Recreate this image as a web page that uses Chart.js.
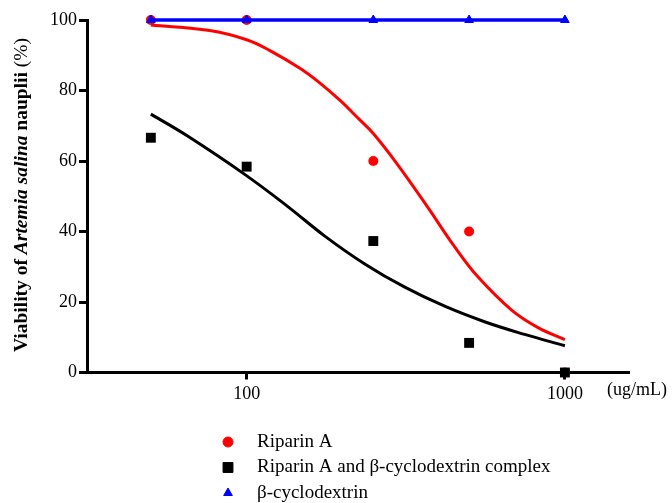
<!DOCTYPE html>
<html>
<head>
<meta charset="utf-8">
<script src="https://cdn.jsdelivr.net/npm/chart.js@4"></script>
<style>
  html, body { margin: 0; padding: 0; background: #fff; }
  #wrap { width: 672px; height: 503px; }
</style>
</head>
<body>
<div id="wrap"><canvas id="chart" width="672" height="503"></canvas></div>
<script>
// measured concentrations (ug/mL)
const doses = [50, 100, 250, 500, 1000];
const riparinPts = [100, 100, 60, 40, 0];
const complexPts = [66.6, 58.4, 37.3, 8.4, 0];
const cyclodextrinPts = [100, 100, 100, 100, 100];

// fitted curves
const riparinFitX = [50, 76.5, 100, 118, 147, 170, 197, 226, 250, 298, 370, 450, 532, 680, 821, 1000];
const riparinFitY = [98.6, 97.0, 94.4, 91.4, 86.3, 82.1, 77.1, 71.8, 67.8, 59.0, 47.0, 35.7, 27.2, 17.7, 12.8, 9.3];
const complexFitX = [50, 65.4, 98.6, 135, 176, 235, 314, 419, 559, 747, 1000];
const complexFitY = [73.3, 67.0, 56.2, 47.0, 38.7, 30.8, 24.2, 18.8, 14.4, 10.8, 7.6];

const xTicks = [100, 1000];
const yTicks = [0, 20, 40, 60, 80, 100];

const legendItems = [
  { label: 'Riparin A', style: 'circle', color: '#ff0000', radius: 5 },
  { label: 'Riparin A and \u03b2-cyclodextrin complex', style: 'rect', color: '#000000', radius: 7 },
  { label: '\u03b2-cyclodextrin', style: 'triangle', color: '#0000ff', radius: 5 },
];

const FONT = '"Liberation Serif", "Times New Roman", serif';
const zip = (xs, ys) => xs.map((x, i) => ({ x: x, y: ys[i] }));

const extras = {
  id: 'extras',
  afterDraw(chart) {
    const ctx = chart.ctx;
    ctx.save();

    // y axis title with italic species name
    const parts = [
      ['bold 19.5px ' + FONT, 'Viability of '],
      ['italic bold 19.5px ' + FONT, 'Artemia salina'],
      ['bold 19.5px ' + FONT, ' nauplii '],
      ['19.5px ' + FONT, '(%)'],
    ];
    let total = 0;
    parts.forEach((p) => { ctx.font = p[0]; total += ctx.measureText(p[1]).width; });
    ctx.translate(22, 195);
    ctx.rotate(-Math.PI / 2);
    ctx.fillStyle = '#000';
    ctx.textBaseline = 'middle';
    let x = -total / 2;
    parts.forEach((p) => {
      ctx.font = p[0];
      ctx.fillText(p[1], x, 0);
      x += ctx.measureText(p[1]).width;
    });
    ctx.restore();

    // unit label at the end of the x axis
    ctx.save();
    ctx.font = '18px ' + FONT;
    ctx.fillStyle = '#000';
    ctx.textBaseline = 'middle';
    ctx.fillText('(ug/mL)', 607, 390);

    // legend
    legendItems.forEach((item, i) => {
      const y = 442 + i * 25.5;
      ctx.fillStyle = item.color;
      ctx.strokeStyle = item.color;
      ctx.lineWidth = 1;
      Chart.helpers.drawPoint(ctx, { pointStyle: item.style, radius: item.radius, borderWidth: 1, rotation: 0 }, 228, y);
      ctx.fillStyle = '#000';
      ctx.font = '19px ' + FONT;
      ctx.fillText(item.label, 257, y);
    });
    ctx.restore();
  },
};

new Chart(document.getElementById('chart'), {
  type: 'line',
  data: {
    datasets: [
      {
        label: 'β-cyclodextrin',
        data: zip(doses, cyclodextrinPts),
        borderColor: '#0000ff',
        backgroundColor: '#0000ff',
        borderWidth: 3.5,
        pointStyle: 'triangle',
        pointRadius: 5,
        pointBorderWidth: 1,
        tension: 0,
        order: 1,
      },
      {
        label: 'Riparin A and β-cyclodextrin complex',
        data: zip(doses, complexPts),
        showLine: false,
        borderColor: '#000',
        backgroundColor: '#000',
        pointStyle: 'rect',
        pointRadius: 7,
        pointBorderWidth: 0,
        order: 2,
      },
      {
        label: 'Riparin A',
        data: zip(doses, riparinPts),
        showLine: false,
        borderColor: '#ff0000',
        backgroundColor: '#ff0000',
        pointStyle: 'circle',
        pointRadius: 5,
        pointBorderWidth: 0,
        order: 3,
      },
      {
        label: 'complex fit',
        data: zip(complexFitX, complexFitY),
        borderColor: '#000',
        borderWidth: 3,
        pointRadius: 0,
        tension: 0.4,
        order: 4,
      },
      {
        label: 'riparin fit',
        data: zip(riparinFitX, riparinFitY),
        borderColor: '#ff0000',
        borderWidth: 3,
        pointRadius: 0,
        tension: 0.4,
        order: 5,
      },
    ],
  },
  options: {
    responsive: false,
    animation: false,
    clip: false,
    layout: { padding: { top: 20, right: 43, left: 0, bottom: 0 } },
    plugins: {
      legend: { display: false },
      tooltip: { enabled: false },
    },
    scales: {
      x: {
        type: 'logarithmic',
        min: 31.5,
        max: 1590,
        afterBuildTicks: (scale) => {
          scale.ticks = xTicks.map((v) => ({ value: v }));
        },
        afterFit: (scale) => { scale.height = 130.5; },
        ticks: {
          color: '#000',
          font: { family: FONT, size: 18 },
          padding: 4,
          maxRotation: 0,
          autoSkip: false,
          callback: (v) => String(v),
        },
        grid: {
          drawOnChartArea: false,
          drawTicks: true,
          tickLength: 7,
          tickWidth: 3,
          tickColor: '#000',
        },
        border: { display: true, color: '#000', width: 3 },
      },
      y: {
        min: 0,
        max: 100,
        afterBuildTicks: (scale) => {
          scale.ticks = yTicks.map((v) => ({ value: v }));
        },
        afterFit: (scale) => { scale.width = 87; },
        ticks: {
          color: '#000',
          font: { family: FONT, size: 18 },
          padding: 2,
        },
        grid: {
          drawOnChartArea: false,
          drawTicks: true,
          tickLength: 8,
          tickWidth: 3,
          tickColor: '#000',
        },
        border: { display: true, color: '#000', width: 3 },
      },
    },
  },
  plugins: [extras],
});
</script>
</body>
</html>
